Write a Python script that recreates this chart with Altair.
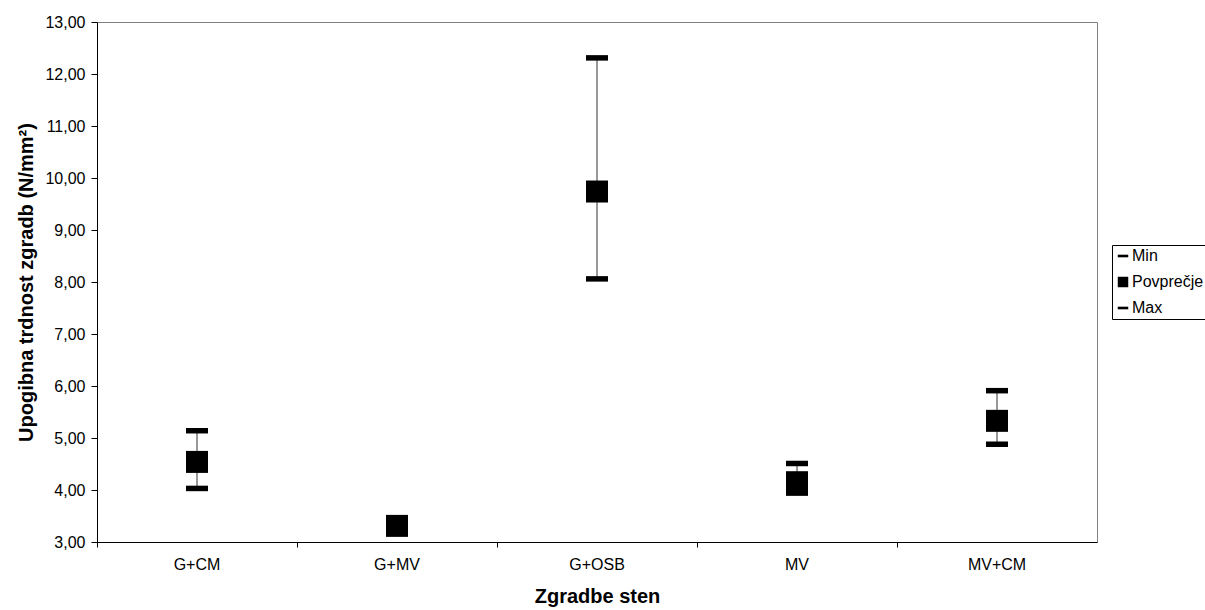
import altair as alt
import pandas as pd

categories = ["G+CM", "G+MV", "G+OSB", "MV", "MV+CM"]
min_vals = [4.03, 3.22, 8.06, 3.94, 4.88]
mean_vals = [4.54, 3.31, 9.74, 4.15, 5.33]
max_vals = [5.14, 3.42, 12.31, 4.51, 5.91]
series_names = ["Min", "Povprečje", "Max"]
y_ticks = [3, 4, 5, 6, 7, 8, 9, 10, 11, 12, 13]

wide = pd.DataFrame({"cat": categories, "min": min_vals, "mean": mean_vals, "max": max_vals})
rows = []
for i, c in enumerate(categories):
    rows.append({"cat": c, "series": "Min", "value": min_vals[i]})
    rows.append({"cat": c, "series": "Povprečje", "value": mean_vals[i]})
    rows.append({"cat": c, "series": "Max", "value": max_vals[i]})
long = pd.DataFrame(rows)

FONT = "Liberation Sans"
dash = "M-1,-0.25H1V0.25H-1Z"

x_enc = alt.X(
    "cat:N",
    sort=categories,
    scale=alt.Scale(type="band", domain=categories, paddingInner=0, paddingOuter=0),
    axis=alt.Axis(
        title="Zgradbe sten",
        bandPosition=0,
        labelAngle=0,
        labelFontSize=16,
        labelFont=FONT,
        labelColor="black",
        labelPadding=9,
        tickSize=5,
        tickColor="black",
        domainColor="black",
        titleFont=FONT,
        titleFontSize=20,
        titleFontWeight="bold",
        titleColor="black",
        titlePadding=14,
        grid=False,
    ),
)

y_scale = alt.Scale(domain=[3, 13], nice=False, zero=False)
y_axis = alt.Axis(
    title="Upogibna trdnost zgradb (N/mm²)",
    values=y_ticks,
    labelExpr="replace(format(datum.value, '.2f'), '.', ',')",
    labelFontSize=16,
    labelFont=FONT,
    labelColor="black",
    labelPadding=6,
    tickSize=6,
    tickColor="black",
    domainColor="black",
    titleFont=FONT,
    titleFontSize=20,
    titleFontWeight="bold",
    titleColor="black",
    titlePadding=8,
    grid=False,
)

rules = alt.Chart(wide).mark_rule(color="#333333", strokeWidth=1).encode(
    x=x_enc,
    y=alt.Y("min:Q", scale=y_scale, axis=y_axis),
    y2="max:Q",
)

points = alt.Chart(long).mark_point(filled=True, size=484, opacity=1, color="black", strokeWidth=0).encode(
    x=x_enc,
    y=alt.Y("value:Q", scale=y_scale, axis=y_axis),
    shape=alt.Shape(
        "series:N",
        scale=alt.Scale(domain=series_names, range=[dash, "square", dash]),
        legend=alt.Legend(
            title=None,
            orient="none",
            legendX=1015,
            legendY=223,
            strokeColor="black",
            padding=3,
            labelFont=FONT,
            labelFontSize=16,
            labelColor="black",
            symbolSize=110,
            symbolFillColor="black",
            symbolStrokeWidth=0,
            rowPadding=10,
            labelOffset=1,
        ),
    ),
    order=alt.Order("order:Q"),
).transform_calculate(order="datum.series == 'Min' ? 0 : (datum.series == 'Povprečje' ? 1 : 2)")

chart = alt.layer(rules, points).properties(
    width=1000,
    height=520,
    autosize=alt.AutoSizeParams(type="none"),
    padding={"left": 97, "top": 22, "right": 108, "bottom": 68},
    background="white",
).configure_view(stroke="#808080", strokeWidth=1)

chart.save("out.html", embed_options={"renderer": "svg", "actions": False})
